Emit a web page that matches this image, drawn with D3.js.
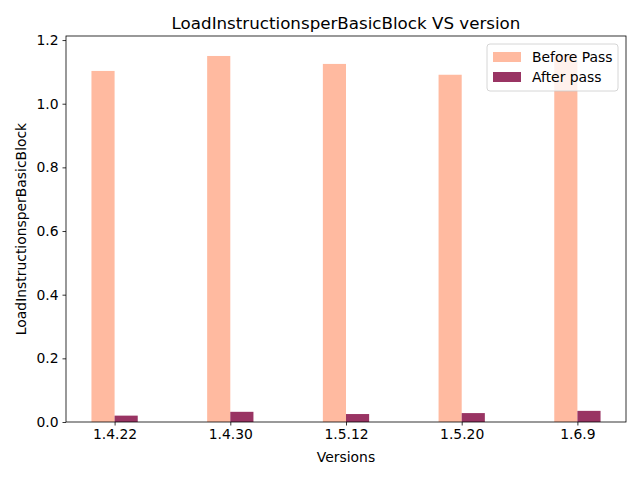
<!DOCTYPE html>
<html>
<head>
<meta charset="utf-8">
<script src="https://cdn.jsdelivr.net/npm/d3@7"></script>
<style>
body { margin: 0; background: #fff; }
svg { font-family: "DejaVu Sans", sans-serif; }
</style>
</head>
<body>
<svg id="chart" width="640" height="480"></svg>
<script>
const categories = ["1.4.22", "1.4.30", "1.5.12", "1.5.20", "1.6.9"];
const beforePass = [1.103, 1.150, 1.125, 1.091, 1.155];
const afterPass = [0.020, 0.032, 0.025, 0.028, 0.035];
const yTicks = [0.0, 0.2, 0.4, 0.6, 0.8, 1.0, 1.2];
const seriesNames = ["Before Pass", "After pass"];
const colors = ["#ffbaa0", "#993463"];

const svg = d3.select("#chart");
const m = { left: 66, right: 626, top: 36, bottom: 422 };
const barW = 0.2;

const x = d3.scaleLinear().domain([-0.42, 4.42]).range([m.left, m.right]);
const ymax = d3.max(beforePass.concat(afterPass)) * 1.05;
const y = d3.scaleLinear().domain([0, ymax]).range([m.bottom, m.top]);

// bars
svg.append("g").selectAll("rect").data(beforePass).join("rect")
  .attr("x", (d, i) => x(i - barW))
  .attr("width", x(barW) - x(0))
  .attr("y", d => y(d))
  .attr("height", d => y(0) - y(d))
  .attr("fill", colors[0]);
svg.append("g").selectAll("rect").data(afterPass).join("rect")
  .attr("x", (d, i) => x(i))
  .attr("width", x(barW) - x(0))
  .attr("y", d => y(d))
  .attr("height", d => y(0) - y(d))
  .attr("fill", colors[1]);

// axes
const xAxis = d3.axisBottom(x).tickValues(d3.range(categories.length))
  .tickFormat(i => categories[i]).tickSize(3.5).tickPadding(4);
const gx = svg.append("g").attr("transform", `translate(0,${m.bottom})`).call(xAxis);
const yAxis = d3.axisLeft(y).tickValues(yTicks).tickFormat(d3.format(".1f")).tickSize(3.5).tickPadding(4);
const gy = svg.append("g").attr("transform", `translate(${m.left},0)`).call(yAxis);
[gx, gy].forEach(g => {
  g.select(".domain").remove();
  g.selectAll("text").attr("font-size", 13.9).attr("fill", "#000").attr("font-family", "DejaVu Sans");
  g.selectAll("line").attr("stroke", "#000").attr("stroke-width", 0.8);
});

// spines
svg.append("rect").attr("x", m.left).attr("y", m.top)
  .attr("width", m.right - m.left).attr("height", m.bottom - m.top)
  .attr("fill", "none").attr("stroke", "#000").attr("stroke-width", 0.8);

// title and labels
svg.append("text").attr("x", (m.left + m.right) / 2).attr("y", 29)
  .attr("text-anchor", "middle").attr("font-size", 16.7)
  .text("LoadInstructionsperBasicBlock VS version");
svg.append("text").attr("x", (m.left + m.right) / 2).attr("y", 462)
  .attr("text-anchor", "middle").attr("font-size", 13.9).text("Versions");
svg.append("text").attr("transform", `translate(26,${(m.top + m.bottom) / 2}) rotate(-90)`)
  .attr("text-anchor", "middle").attr("font-size", 13.9).text("LoadInstructionsperBasicBlock");

// legend
const lg = svg.append("g").attr("transform", "translate(487,44)");
lg.append("rect").attr("width", 131).attr("height", 47).attr("rx", 3)
  .attr("fill", "#fff").attr("fill-opacity", 0.8).attr("stroke", "#ccc").attr("stroke-width", 0.8);
seriesNames.forEach((s, i) => {
  lg.append("rect").attr("x", 6).attr("y", 8 + i * 20).attr("width", 28).attr("height", 10).attr("fill", colors[i]);
  lg.append("text").attr("x", 45).attr("y", 18 + i * 20).attr("font-size", 13.9).text(s);
});
</script>
</body>
</html>
